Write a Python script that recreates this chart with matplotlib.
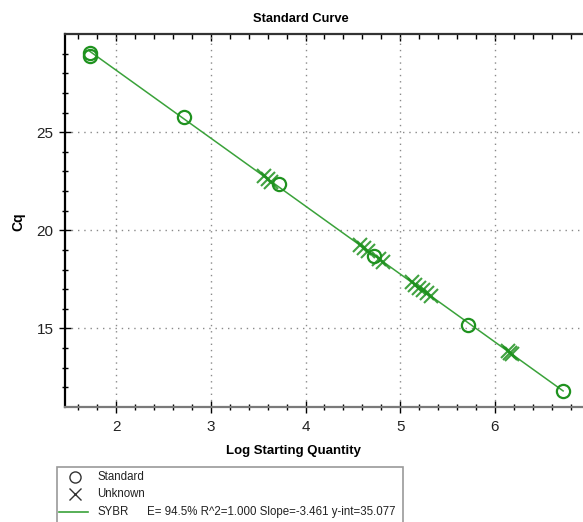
import matplotlib
matplotlib.use("Agg")
import matplotlib.pyplot as plt
from matplotlib.lines import Line2D
from matplotlib.patches import Rectangle

plt.rcParams["font.family"] = ["Liberation Sans", "DejaVu Sans"]

# standard wells: log quantity vs Cq
std_logq = [1.72, 1.72, 2.72, 3.72, 4.72, 5.72, 6.72]
std_cq = [29.04, 28.86, 25.75, 22.36, 18.69, 15.20, 11.83]

# unknown wells
unk_logq = [3.56, 3.60, 3.64,
            4.58, 4.62, 4.66, 4.78, 4.82,
            5.12, 5.16, 5.20, 5.24, 5.28, 5.32,
            6.14, 6.16, 6.18]
unk_cq = [22.76, 22.62, 22.48,
          19.23, 19.09, 18.95, 18.53, 18.39,
          17.35, 17.22, 17.08, 16.94, 16.80, 16.66,
          13.83, 13.76, 13.69]

# fit reported by the instrument
efficiency = 94.5
r_squared = 1.000
slope = -3.461
y_int = 35.077
fit_range = [1.72, 6.72]

green = "#1f921f"
line_green = "#3aa23a"

W, H = 583, 522
fig = plt.figure(figsize=(W / 100, H / 100), dpi=100)
ax = fig.add_axes([65 / W, 1 - 407 / H, (W - 65) / W, (407 - 34) / H])

fit_y = [slope * x + y_int for x in fit_range]
ax.plot(fit_range, fit_y, color=line_green, lw=1.1, zorder=2)
ax.plot(unk_logq, unk_cq, ls="none", marker="x", ms=10.5, mew=1.5,
        color=green, alpha=0.85, zorder=3)
ax.plot(std_logq, std_cq, ls="none", marker="o", ms=9.5, mew=1.6,
        mfc="none", mec=green, zorder=4)

ax.set_xlim(1.46, 6.93)
ax.set_ylim(11, 30)
ax.set_xticks([2, 3, 4, 5, 6])
ax.set_xticks([1.6, 1.8, 2.2, 2.4, 2.6, 2.8, 3.2, 3.4, 3.6, 3.8,
               4.2, 4.4, 4.6, 4.8, 5.2, 5.4, 5.6, 5.8,
               6.2, 6.4, 6.6, 6.8], minor=True)
ax.set_yticks([15, 20, 25])
ax.set_yticks([12, 13, 14, 16, 17, 18, 19, 21, 22, 23, 24,
               26, 27, 28, 29], minor=True)

ax.grid(True, which="major", color="#8a8a8a", lw=1.0, ls=(0, (1, 3.5)))
ax.set_axisbelow(True)

ax.spines["right"].set_visible(False)
ax.spines["left"].set_color("black")
ax.spines["left"].set_linewidth(1.6)
ax.spines["bottom"].set_color("#7a7a7a")
ax.spines["bottom"].set_linewidth(1.6)
ax.spines["top"].set_color("#333333")
ax.spines["top"].set_linewidth(1.6)

ax.tick_params(which="major", direction="inout", length=8.5, width=1.0,
               color="black", labelsize=11, labelcolor="#222222")
ax.tick_params(which="minor", direction="inout", length=4.5, width=1.0,
               color="black")
ax.tick_params(axis="x", which="major", pad=5)
ax.tick_params(axis="y", which="major", pad=4)

top = ax.secondary_xaxis("top")
top.set_xticks([2, 3, 4, 5, 6])
top.set_xticks(ax.get_xticks(minor=True), minor=True)
top.tick_params(which="major", direction="in", length=5, width=1.0,
                labeltop=False)
top.tick_params(which="minor", direction="in", length=3.5, width=1.0)
top.spines["top"].set_visible(False)

fig.text(301 / W, 1 - 19 / H, "Standard Curve", ha="center", va="center",
         fontsize=9.3, fontweight="bold")
fig.text(293 / W, 1 - 451 / H, "Log Starting Quantity", ha="center",
         va="center", fontsize=9.5, fontweight="bold")
fig.text(18 / W, 1 - 222 / H, "Cq", ha="center", va="center", rotation=90,
         fontsize=10, fontweight="bold")

# legend panel below the axes
fig.add_artist(Rectangle((57 / W, -0.05), (403 - 57) / W,
                         1 - 467 / H + 0.05, transform=fig.transFigure,
                         fill=False, edgecolor="#9a9a9a", lw=1.2))
rows = [476.5, 494, 512]
fig.add_artist(Line2D([75 / W], [1 - rows[0] / H], transform=fig.transFigure,
                      marker="o", ms=8, mfc="none", mec="#333333", mew=1.0))
fig.add_artist(Line2D([75 / W], [1 - rows[1] / H], transform=fig.transFigure,
                      marker="x", ms=8, mec="#333333", mew=1.0))
fig.add_artist(Line2D([59 / W, 88 / W], [1 - rows[2] / H] * 2,
                      transform=fig.transFigure, color=line_green, lw=1.2))
fig.text(97 / W, 1 - rows[0] / H, "Standard", va="center", fontsize=8.3,
         color="#222222")
fig.text(97 / W, 1 - rows[1] / H, "Unknown", va="center", fontsize=8.3,
         color="#222222")
fig.text(97 / W, 1 - rows[2] / H, "SYBR", va="center", fontsize=8.3,
         color="#222222")
fig.text(147 / W, 1 - rows[2] / H,
         f"E= {efficiency:.1f}% R^2={r_squared:.3f} Slope={slope:.3f} "
         f"y-int={y_int:.3f}", va="center", fontsize=8.3, color="#222222")

fig.savefig("out.png", dpi=100)
